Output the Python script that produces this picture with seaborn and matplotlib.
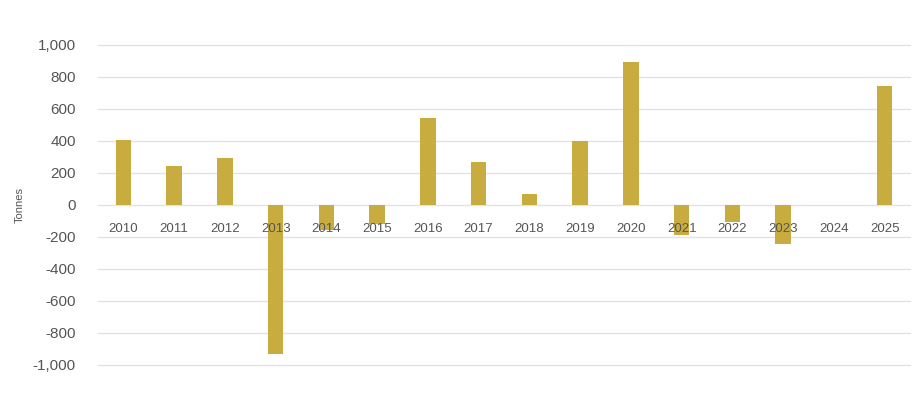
import matplotlib
matplotlib.use("Agg")
import matplotlib.pyplot as plt
import seaborn as sns
import pandas as pd
from matplotlib.ticker import FuncFormatter, MultipleLocator

years = ["2010", "2011", "2012", "2013", "2014", "2015", "2016", "2017",
         "2018", "2019", "2020", "2021", "2022", "2023", "2024", "2025"]
tonnes = [405, 241, 294, -929, -154, -120, 541, 266,
          71, 398, 891, -188, -109, -244, 0, 744]
y_label = "Tonnes"

sns.set_theme(style="white")
plt.rcParams["font.family"] = ["Liberation Sans", "DejaVu Sans"]

df = pd.DataFrame({"year": years, "tonnes": tonnes})

fig = plt.figure(figsize=(9.23, 3.98), dpi=100)
ax = fig.add_axes([98 / 923, 33 / 398, 812 / 923, 320 / 398])

sns.barplot(data=df, x="year", y="tonnes", color="#C8AC40", saturation=1,
            width=0.31, ax=ax, zorder=2, edgecolor="none")

ax.set_ylim(-1000, 1000)
ax.set_xlim(-0.5, len(years) - 0.5)
ax.yaxis.set_major_locator(MultipleLocator(200))
ax.yaxis.set_major_formatter(FuncFormatter(lambda v, p: f"{int(v):,}"))
ax.grid(axis="y", color="#E3E3E3", linewidth=1)
for gl in ax.get_ygridlines():
    gl.set_clip_on(False)
ax.set_axisbelow(True)
for s in ax.spines.values():
    s.set_visible(False)

ax.tick_params(axis="y", length=0, pad=16, labelsize=11, labelcolor="#555555")
ax.set_xticks([])
ax.set_xlabel("")
ax.set_ylabel(y_label, fontsize=8, color="#555555")
ax.yaxis.set_label_coords(-0.09, 0.5)

for i, yr in enumerate(years):
    ax.annotate(yr, xy=(i, 0), xytext=(0, -17), textcoords="offset points",
                ha="center", va="center", fontsize=9.5, color="#555555", zorder=5)

fig.savefig("out.png", dpi=100)
